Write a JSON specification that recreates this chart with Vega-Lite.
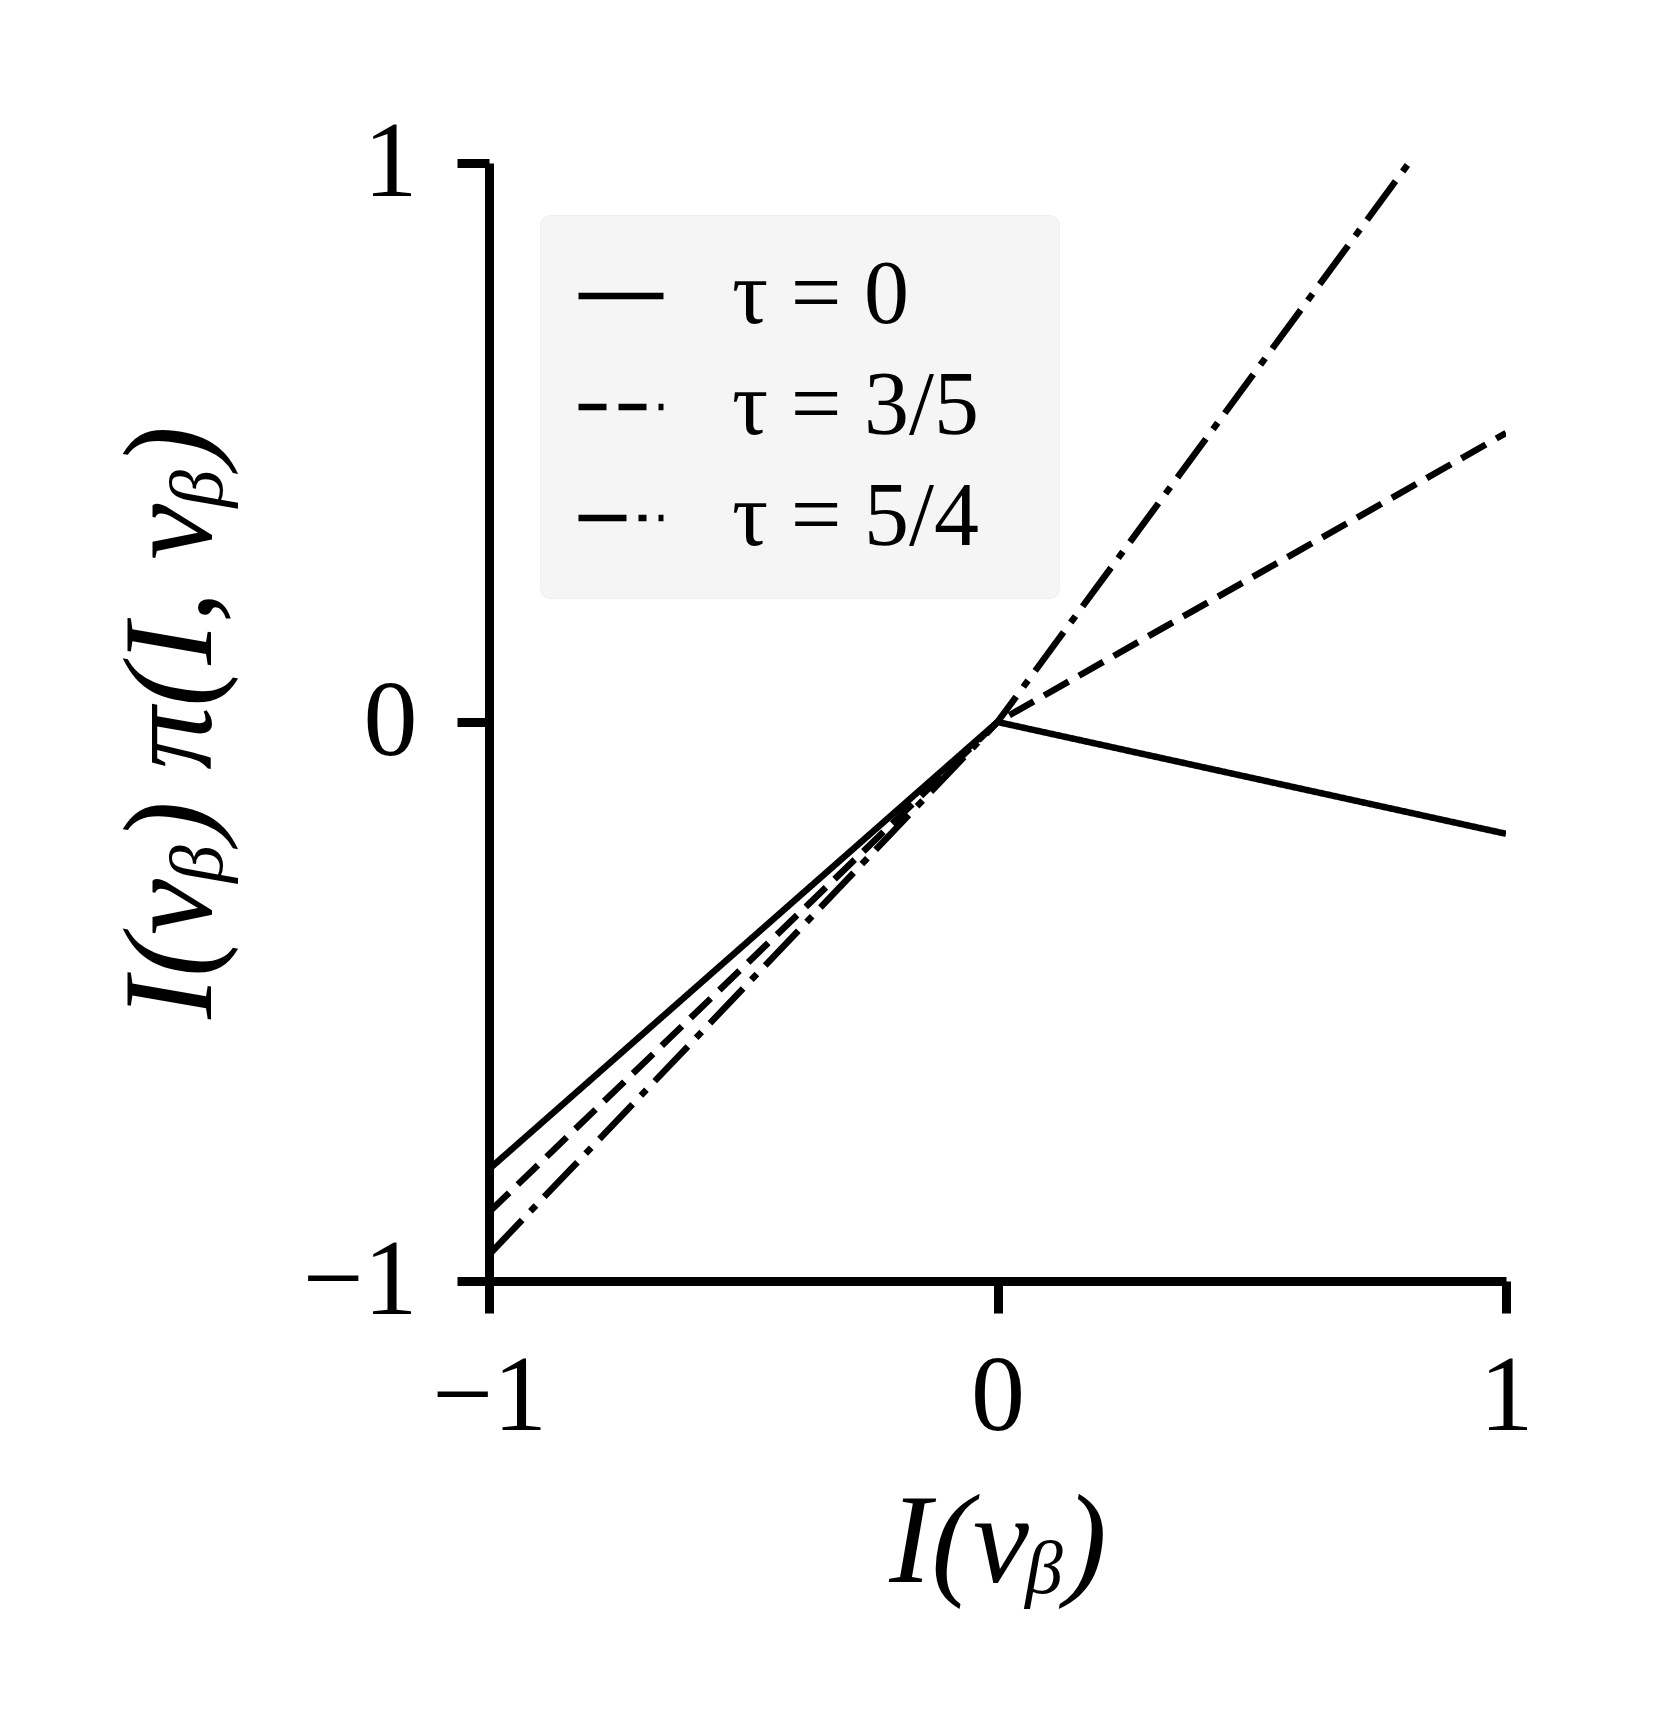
{
  "$schema": "https://vega.github.io/schema/vega-lite/v6.json",
  "width": 1017,
  "height": 1118,
  "autosize": {"type": "none"},
  "padding": {"left": 489, "top": 163, "right": 153, "bottom": 447},
  "background": "white",
  "data": {
    "values": [
      {"x": -1, "y": -0.8, "tau": "τ  =  0"},
      {"x": 0, "y": 0, "tau": "τ  =  0"},
      {"x": 1, "y": -0.2, "tau": "τ  =  0"},
      {"x": -1, "y": -0.877, "tau": "τ  =  3/5"},
      {"x": 0, "y": 0, "tau": "τ  =  3/5"},
      {"x": 1, "y": 0.517, "tau": "τ  =  3/5"},
      {"x": -1, "y": -0.953, "tau": "τ  =  5/4"},
      {"x": 0, "y": 0, "tau": "τ  =  5/4"},
      {"x": 1, "y": 1.236, "tau": "τ  =  5/4"}
    ]
  },
  "mark": {"type": "line", "clip": true, "strokeWidth": 6.5, "color": "black", "strokeCap": "butt"},
  "encoding": {
    "x": {
      "field": "x",
      "type": "quantitative",
      "scale": {"domain": [-1, 1], "nice": false, "zero": false},
      "axis": {"title": "I(vᵦ)", "tickCount": 3, "labelFlush": false, "format": "d", "labelPadding": 31, "titlePadding": 30}
    },
    "y": {
      "field": "y",
      "type": "quantitative",
      "scale": {"domain": [-1, 1], "nice": false, "zero": false},
      "axis": {"title": "I(vᵦ) π(I, vᵦ)", "tickCount": 3, "labelFlush": false, "format": "d", "labelPadding": 40, "titlePadding": 66}
    },
    "strokeDash": {
      "field": "tau",
      "type": "nominal",
      "scale": {
        "domain": ["τ  =  0", "τ  =  3/5", "τ  =  5/4"],
        "range": [[1, 0], [28, 12], [48, 12, 8, 12]]
      },
      "legend": {"title": null}
    }
  },
  "config": {
    "view": {"stroke": null},
    "axis": {
      "domainColor": "black",
      "domainWidth": 9,
      "tickColor": "black",
      "tickWidth": 9,
      "tickSize": 32,
      "labelFont": "Liberation Serif",
      "labelFontSize": 108,
      "labelColor": "black",
      "titleFont": "Liberation Serif",
      "titleFontSize": 126,
      "titleFontWeight": "normal",
      "titleFontStyle": "italic",
      "titleColor": "black",
      "grid": false
    },
    "legend": {
      "orient": "none",
      "legendX": 51,
      "legendY": 52,
      "fillColor": "#f5f5f5",
      "strokeColor": "#eeeeee",
      "cornerRadius": 10,
      "padding": 35,
      "labelFont": "Liberation Serif",
      "labelFontSize": 90,
      "labelColor": "black",
      "labelLimit": 1000,
      "symbolType": "stroke",
      "symbolStrokeColor": "black",
      "symbolStrokeWidth": 6.5,
      "symbolSize": 7225,
      "labelOffset": 65,
      "rowPadding": 20
    }
  }
}
